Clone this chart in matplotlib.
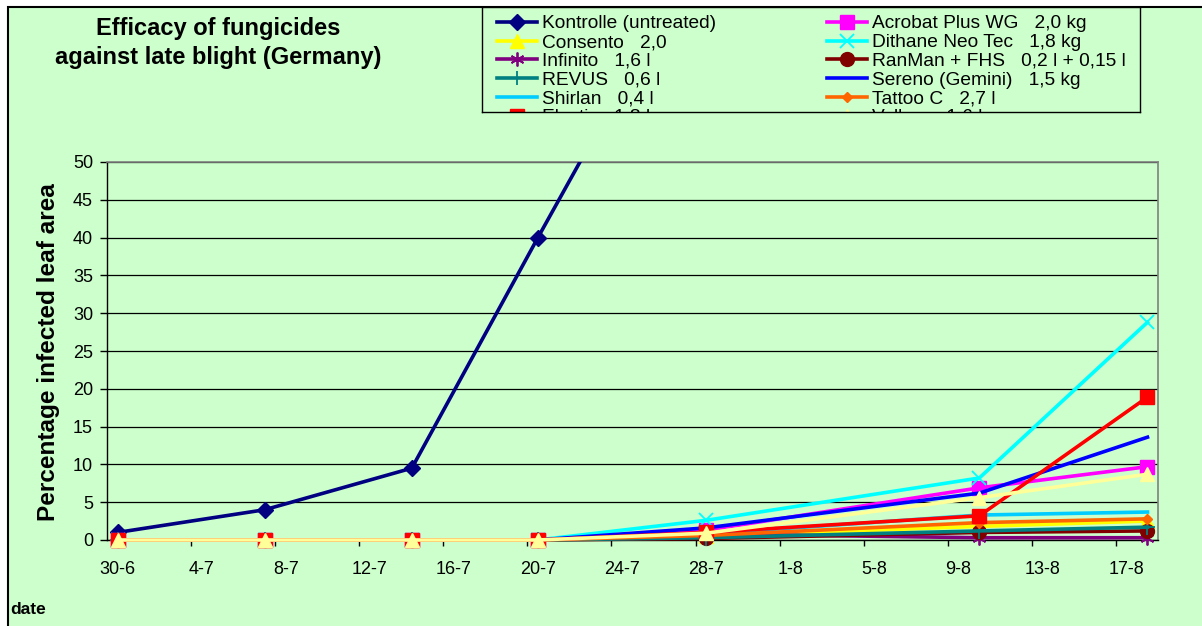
import numpy as np
import pandas as pd
import matplotlib
matplotlib.use("Agg")
import matplotlib.pyplot as plt
from matplotlib.patches import Rectangle

plt.rcParams["font.family"] = ["Liberation Sans", "DejaVu Sans"]

# ---------- data ----------
dates = ["30-6", "7-7", "14-7", "20-7", "28-7", "10-8", "18-8"]
kontrolle = [1.0, 4.0, 9.5, 40.0, 80.0, np.nan, np.nan]
acrobat   = [0, 0, 0, 0, 1.3, 6.9, 9.7]
consento  = [0, 0, 0, 0, 0.5, 1.8, 2.5]
dithane   = [0, 0, 0, 0, 2.6, 8.2, 28.8]
infinito  = [0, 0, 0, 0, 0.8, 0.3, 0.3]
ranman    = [0, 0, 0, 0, 0.2, 1.0, 1.2]
revus     = [0, 0, 0, 0, 0.3, 1.2, 1.7]
sereno    = [0, 0, 0, 0, 1.6, 6.2, 13.6]
shirlan   = [0, 0, 0, 0, 0.8, 3.3, 3.7]
tattoo    = [0, 0, 0, 0, 0.6, 2.3, 2.8]
electis   = [0, 0, 0, 0, 1.0, 3.2, 18.9]
valbon    = [0, 0, 0, 0, 0.9, 5.6, 8.7]

# label, values, colour, marker, markersize  (Excel series order)
series = [
    ("Kontrolle (untreated)",         kontrolle, "#000080", "D", 8),
    ("Acrobat Plus WG   2,0 kg",      acrobat,   "#FF00FF", "s", 9.5),
    ("Consento   2,0",                consento,  "#FFFF00", "^", 10),
    ("Dithane Neo Tec   1,8 kg",      dithane,   "#00FFFF", "x", 10),
    ("Infinito   1,6 l",              infinito,  "#800080", (6, 2, 0), 10),
    ("RanMan + FHS   0,2 l + 0,15 l", ranman,    "#800000", "o", 10),
    ("REVUS   0,6 l",                 revus,     "#008080", "+", 11),
    ("Sereno (Gemini)   1,5 kg",      sereno,    "#0000FF", None, 0),
    ("Shirlan   0,4 l",               shirlan,   "#00CCFF", None, 0),
    ("Tattoo C   2,7 l",              tattoo,    "#FF6600", "D", 5),
    ("Electis   1,8 kg",              electis,   "#FF0000", "s", 10.5),
    ("Valbon   1,6 kg",               valbon,    "#FFFF99", "^", 10.5),
]

dt = pd.to_datetime([d + "-2007" for d in dates], format="%d-%m-%Y")
days = np.array((dt - dt[0]).days)

W, H = 1202, 626
BG = "#CCFFCC"
LW = 2.6
fig = plt.figure(figsize=(W / 100, H / 100), dpi=100, facecolor="white")

# chart area frame
fig.add_artist(Rectangle((8 / W, -0.05), 1.1, 1 - 7 / H + 0.05, transform=fig.transFigure,
                         facecolor=BG, edgecolor="black", lw=1.5, zorder=0))

ax = fig.add_axes([107 / W, 1 - 540 / H, (1158 - 107) / W, (540 - 162) / H], facecolor=BG)
ax.set_zorder(2)

for i, (lab, vals, col, mk, ms) in enumerate(series):
    stroke = mk in ("x", "+", (6, 2, 0))
    ax.plot(days, vals, color=col, lw=LW, marker=mk, ms=ms,
            mfc=col, mec=col, mew=1.3 if stroke else 1,
            clip_on=(i == 0), zorder=3 + i)

ax.set_xlim(-0.5, 49.5)
ax.set_ylim(0, 50)
ax.set_yticks(np.arange(0, 51, 5))
ax.yaxis.grid(True, color="black", lw=0.9)
ax.set_axisbelow(True)

tick_days = np.arange(0, 49, 4)
ax.set_xticks(tick_days)
ax.set_xticklabels([f"{d.day}-{d.month}" for d in dt[0] + pd.to_timedelta(tick_days, unit="D")])
ax.set_xticks(np.arange(3.5, 48, 4), minor=True)
ax.tick_params(axis="x", which="major", length=0, pad=15, labelsize=13)
ax.tick_params(axis="x", which="minor", length=4.5, width=1, direction="out")
ax.tick_params(axis="y", length=5, width=1, pad=5, labelsize=13)

for s in ("left", "bottom"):
    ax.spines[s].set_color("black"); ax.spines[s].set_linewidth(1)
for s in ("top", "right"):
    ax.spines[s].set_color("#808080"); ax.spines[s].set_linewidth(1.2)

fig.text(49 / W, 1 - 352 / H, "Percentage infected leaf area", rotation=90,
         ha="center", va="center", fontsize=17.6, fontweight="bold")
fig.text(218 / W, 1 - 43 / H, "Efficacy of fungicides\nagainst late blight (Germany)",
         ha="center", va="center", fontsize=17, fontweight="bold", linespacing=1.3)
fig.text(10 / W, 1 - 610 / H, "date", ha="left", va="center", fontsize=12.5, fontweight="bold")

# ---------- legend box (clipped like the original) ----------
lx0, ly0, lx1, ly1 = 482, 7, 1140, 112
lg = fig.add_axes([lx0 / W, 1 - ly1 / H, (lx1 - lx0) / W, (ly1 - ly0) / H], facecolor=BG)
lg.set_zorder(5)
lg.set_xlim(0, lx1 - lx0)
lg.set_ylim(ly1 - ly0, 0)
lg.set_xticks([]); lg.set_yticks([])
for s in lg.spines.values():
    s.set_color("black"); s.set_linewidth(1)

for i, (lab, vals, col, mk, ms) in enumerate(series):
    row, c = divmod(i, 2)
    x0 = 15 if c == 0 else 345
    y = 15 + 18.7 * row
    stroke = mk in ("x", "+", (6, 2, 0))
    lg.plot([x0, x0 + 40], [y, y], color=col, lw=LW)
    if mk is not None:
        lg.plot([x0 + 20], [y], marker=mk, ms=min(ms, 10), color=col, mfc=col, mec=col,
                mew=1.3 if stroke else 1)
    lg.text(x0 + 45, y + 6.5, lab, fontsize=13.8, ha="left", va="baseline", clip_on=True)

fig.savefig("out.png", dpi=100, facecolor="white")
